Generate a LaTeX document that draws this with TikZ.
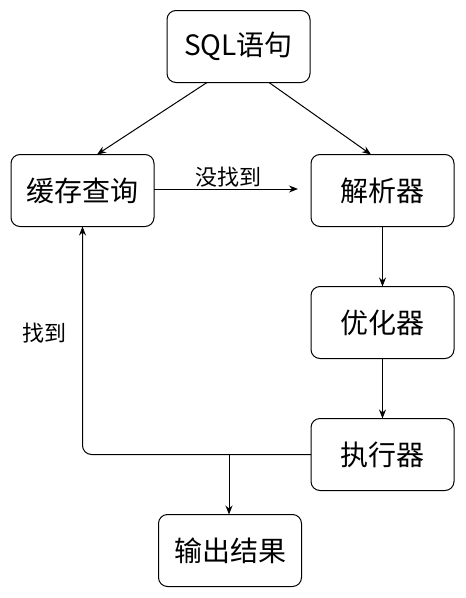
\documentclass[tikz,border=0pt]{standalone}
\usepackage{fontspec}
\setmainfont{Noto Sans CJK SC}
\usetikzlibrary{arrows.meta,calc}
\begin{document}
\begin{tikzpicture}[x=1pt,y=-1pt,
  box/.style={draw,line width=1pt,rounded corners=9pt,minimum width=143pt,minimum height=72pt,inner sep=0pt,outer sep=0pt,font=\fontsize{28}{32}\selectfont},
  conn/.style={line width=1pt,-{Stealth[length=9pt,width=7pt]}},
  lbl/.style={font=\fontsize{22}{26}\selectfont,inner sep=0pt}]
\useasboundingbox (0,0) rectangle (466,598);
\node[box] (sql) at (238.5,46.5) {SQL语句};
\node[box] (cache) at (82.5,190.5) {缓存查询};
\node[box] (parse) at (382.5,190.5) {解析器};
\node[box] (opt) at (382.5,322.5) {优化器};
\node[box] (exec) at (382.5,454.5) {执行器};
\node[box] (out) at (230,550.5) {输出结果};
\draw[conn] ([xshift=-31.5pt]sql.south) -- ([xshift=14.5pt]cache.north);
\draw[conn] ([xshift=30.5pt]sql.south) -- ([xshift=-11.5pt]parse.north);
\draw[conn] ([yshift=1.5pt]cache.east) -- ([xshift=-13pt,yshift=1.5pt]parse.west);
\node[lbl] (nf) at (228,177) {没找到};
\draw[conn] (parse.south) -- (opt.north);
\draw[conn] (opt.south) -- (exec.north);
\draw[conn,rounded corners=9pt] (exec.west) -| (cache.south);
\coordinate (br) at (229,454.5);
\draw[conn] (br) -- (br |- out.north);
\node[lbl] (f) at (45,333) {找到};
\end{tikzpicture}
\end{document}
